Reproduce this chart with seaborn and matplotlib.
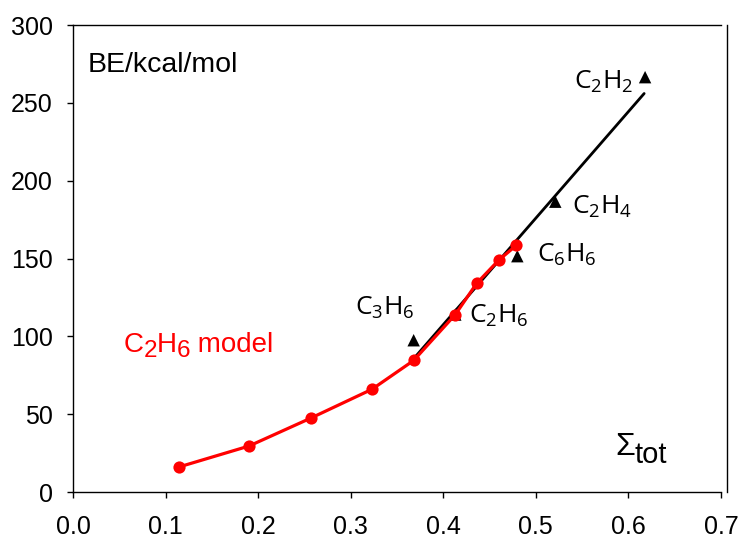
import matplotlib
matplotlib.use("Agg")
import matplotlib.pyplot as plt
import matplotlib.transforms as mtransforms
import seaborn as sns
import pandas as pd

# Data
model_x = [0.114, 0.190, 0.257, 0.323, 0.368, 0.413, 0.436, 0.460, 0.479]
model_y = [16, 29.5, 47.5, 66, 84.5, 114, 134, 149, 158.5]

mol_names = ["C3H6", "C2H6", "C6H6", "C2H4", "C2H2"]
mol_x = [0.368, 0.413, 0.480, 0.521, 0.618]
mol_y = [97.5, 114, 151.5, 186.5, 266.5]
mol_labels = [r"$\mathregular{C_3H_6}$", r"$\mathregular{C_2H_6}$", r"$\mathregular{C_6H_6}$",
              r"$\mathregular{C_2H_4}$", r"$\mathregular{C_2H_2}$"]

fit_x = [0.370, 0.617]
fit_y = [87, 256]

xticks = [0.0, 0.1, 0.2, 0.3, 0.4, 0.5, 0.6, 0.7]
yticks = [0, 50, 100, 150, 200, 250, 300]

sns.set_theme(style="white")
plt.rcParams["font.family"] = ["Liberation Sans", "DejaVu Sans"]

fig = plt.figure(figsize=(7.41, 5.38), dpi=100)
ax = fig.add_axes([0.0985, 0.0855, 0.8745, 0.868])

df_model = pd.DataFrame({"x": model_x, "y": model_y})
df_mol = pd.DataFrame({"x": mol_x, "y": mol_y, "name": mol_names})
df_fit = pd.DataFrame({"x": fit_x, "y": fit_y})

sns.lineplot(data=df_fit, x="x", y="y", ax=ax, color="black", linewidth=2.0, zorder=2)
sns.scatterplot(data=df_mol, x="x", y="y", ax=ax, marker="^", color="black", s=80,
                edgecolor="none", zorder=3)
sns.lineplot(data=df_model, x="x", y="y", ax=ax, color="#ff0000", linewidth=2.3,
             marker="o", markersize=8.8, markeredgewidth=0, zorder=4)

ax.set_xlim(0, 0.7)
ax.set_ylim(0, 300)
ax.set_xticks(xticks)
ax.set_xticklabels([f"{t:.1f}" for t in xticks])
ax.set_yticks(yticks)
ax.set_xlabel("")
ax.set_ylabel("")
ax.tick_params(axis="both", labelsize=18, length=4.5, width=1.0, color="black",
               labelcolor="black", direction="out", bottom=True, left=True)
ax.tick_params(axis="x", pad=12)
ax.tick_params(axis="y", pad=10)
for side in ["left", "bottom", "top", "right"]:
    ax.spines[side].set_visible(True)
    ax.spines[side].set_color("black")
    ax.spines[side].set_linewidth(1.0)
ax.spines["right"].set_position(("axes", 1.01))

label_pos = {
    "C3H6": (0.3046, 113.7),
    "C2H6": (0.4281, 108.7),
    "C6H6": (0.5009, 148.0),
    "C2H4": (0.5387, 179.0),
    "C2H2": (0.541, 259.3),
}
for name, lab in zip(mol_names, mol_labels):
    lx, ly = label_pos[name]
    ax.text(lx, ly, lab, fontsize=19, family=["Open Sans", "DejaVu Sans"],
            ha="left", va="baseline", color="black")

fig.canvas.draw()
renderer = fig.canvas.get_renderer()


def rich_text(x, y, pieces, color):
    dx = 0.0
    for s, size, dy in pieces:
        tr = mtransforms.offset_copy(ax.transData, fig=fig, x=dx, y=dy, units="dots")
        t = ax.text(x, y, s, transform=tr, fontsize=size, color=color,
                    ha="left", va="baseline")
        dx += t.get_window_extent(renderer).width


ax.text(0.0155, 270, "BE/kcal/mol", fontsize=20.5, ha="left", va="baseline", color="black")
rich_text(0.0543, 90.0, [("C", 20, 0), ("2", 17.5, -5), ("H", 20, 0), ("6", 17.5, -5),
                         (" model", 20, 0)], "#ff0000")
rich_text(0.5855, 23.8, [("Σ", 23, 0), ("tot", 21, -8)], "black")

fig.savefig("out.png", dpi=100)
